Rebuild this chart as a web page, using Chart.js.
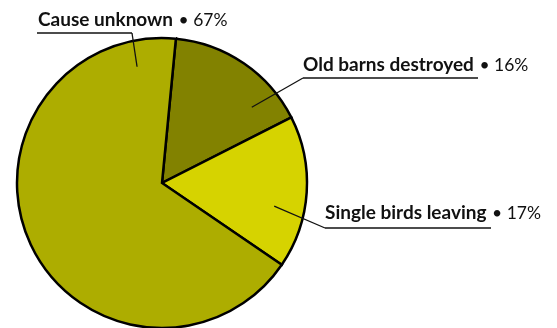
<!DOCTYPE html>
<html>
<head>
<meta charset="utf-8">
<script src="https://cdn.jsdelivr.net/npm/chart.js@4"></script>
<style>
  html, body { margin: 0; padding: 0; background: #ffffff; }
  #wrap { width: 557px; height: 328px; position: relative; }
</style>
</head>
<body>
<div id="wrap"><canvas id="c" width="557" height="328"></canvas></div>
<script>
// ---- data ----
const categories = ["Old barns destroyed", "Single birds leaving", "Cause unknown"];
const values = [16, 17, 67];
const percentLabels = ["16%", "17%", "67%"];
const colors = ["#828200", "#D6D300", "#ADAD00"];

// ---- label placement (style) ----
// anchor: t = fraction along slice angle, r = fraction of radius
const labelLayout = [
  { x: 303, y: 71, lineY: 78, lx1: 303, lx2: 478, elbowX: 303, t: 0.77, r: 0.81 },
  { x: 325, y: 219, lineY: 228, lx1: 325, lx2: 491, elbowX: 325, t: 0.63, r: 0.79 },
  { x: 38, y: 26, lineY: 33, lx1: 37, lx2: 132, elbowX: 132, t: 0.927, r: 0.82 }
];

const FONT_FAMILY = "Lato, 'Open Sans', sans-serif";

const calloutPlugin = {
  id: 'callouts',
  afterDatasetsDraw(chart) {
    const ctx = chart.ctx;
    const meta = chart.getDatasetMeta(0);
    ctx.save();
    meta.data.forEach((arc, i) => {
      const L = labelLayout[i];
      const p = arc.getProps(['x', 'y', 'startAngle', 'endAngle', 'outerRadius'], true);
      const a = p.startAngle + (p.endAngle - p.startAngle) * L.t;
      const ax = p.x + Math.cos(a) * p.outerRadius * L.r;
      const ay = p.y + Math.sin(a) * p.outerRadius * L.r;
      // leader
      ctx.strokeStyle = '#111';
      ctx.lineWidth = 1.3;
      ctx.beginPath();
      ctx.moveTo(ax, ay);
      ctx.lineTo(L.elbowX, L.lineY);
      ctx.stroke();
      // underline
      ctx.lineWidth = 1.5;
      ctx.beginPath();
      ctx.moveTo(L.lx1, L.lineY);
      ctx.lineTo(L.lx2, L.lineY);
      ctx.stroke();
      // text
      ctx.fillStyle = '#111';
      ctx.textBaseline = 'alphabetic';
      ctx.textAlign = 'left';
      ctx.font = "bold 19px " + FONT_FAMILY;
      const name = chart.data.labels[i];
      ctx.fillText(name, L.x, L.y);
      const w = ctx.measureText(name).width;
      ctx.font = "17.5px " + FONT_FAMILY;
      ctx.fillText(" \u2022 " + percentLabels[i], L.x + w + 1, L.y);
    });
    ctx.restore();
  }
};

new Chart(document.getElementById('c'), {
  type: 'pie',
  data: {
    labels: categories,
    datasets: [{
      data: values,
      backgroundColor: colors,
      borderColor: '#000000',
      borderWidth: 2.5,
      borderJoinStyle: 'miter'
    }]
  },
  options: {
    responsive: false,
    animation: false,
    rotation: 5.5,
    radius: 145,
    layout: { padding: { left: 17, right: 250, top: 38, bottom: 0 } },
    plugins: {
      legend: { display: false },
      tooltip: { enabled: false }
    }
  },
  plugins: [calloutPlugin]
});
</script>
</body>
</html>
